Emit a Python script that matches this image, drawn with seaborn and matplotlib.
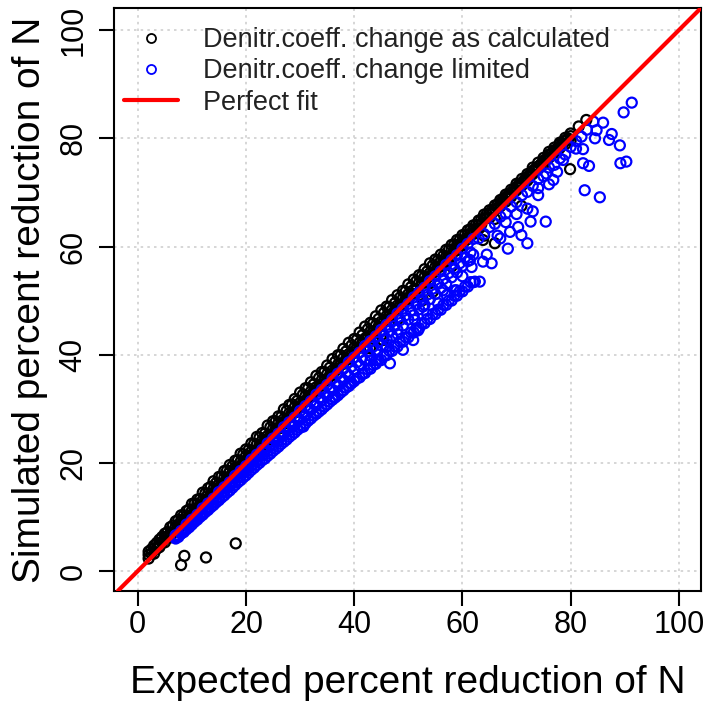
import numpy as np
import pandas as pd
import matplotlib
matplotlib.use("Agg")
import matplotlib.pyplot as plt
from matplotlib.lines import Line2D
import seaborn as sns

# Values (percent reduction of N)
# "as calculated" series: dense band just above the 1:1 line
calc_x = [2, 3, 4, 5, 6, 7, 8, 9, 10,
          11, 12, 13, 14, 15, 16, 17, 18, 19, 20,
          21, 22, 23, 24, 25, 26, 27, 28, 29, 30,
          31, 32, 33, 34, 35, 36, 37, 38, 39, 40,
          41, 42, 43, 44, 45, 46, 47, 48, 49, 50,
          51, 52, 53, 54, 55, 56, 57, 58, 59, 60,
          61, 62, 63, 64, 65, 66, 67, 68, 69, 70,
          71, 72, 73, 74, 75, 76, 77, 78, 79, 80]
calc_y1 = [2.3, 3.2, 4.4, 5.3, 6.2, 7.4, 8.3, 9.2, 10.4,
           11.3, 12.2, 13.4, 14.3, 15.2, 16.4, 17.3, 18.2, 19.4, 20.3,
           21.2, 22.4, 23.3, 24.2, 25.4, 26.3, 27.2, 28.4, 29.3, 30.2,
           31.4, 32.3, 33.2, 34.4, 35.3, 36.2, 37.4, 38.3, 39.2, 40.4,
           41.3, 41.2, 43.4, 44.3, 43.6, 46.4, 47.3, 48.2, 49.4, 50.3,
           51.2, 51.0, 53.3, 53.2, 55.4, 56.3, 57.2, 58.4, 59.3, 60.2,
           61.4, 62.3, 63.2, 62.0, 65.3, 65.1, 67.4, 68.3, 69.2, 70.4,
           71.3, 72.2, 73.4, 74.3, 75.2, 76.4, 77.3, 78.2, 78.9, 79.6]
calc_y2 = [3.0, 4.2, 5.1, 6.3, 7.0, 8.2, 9.3, 10.1, 11.2,
           12.4, 13.1, 14.3, 15.2, 16.0, 17.3, 18.4, 19.1, 20.2, 21.3,
           22.1, 23.4, 24.2, 25.0, 26.3, 27.4, 28.1, 29.2, 30.3, 31.1,
           32.4, 33.2, 34.0, 35.3, 36.4, 37.1, 38.2, 39.4, 40.1, 41.3,
           42.2, 43.0, 44.3, 45.4, 46.1, 47.2, 48.3, 49.1, 50.4, 51.2,
           52.0, 53.3, 54.4, 55.1, 56.2, 57.3, 58.1, 59.4, 60.2, 61.0,
           62.2, 63.1, 64.0, 65.2, 66.1, 66.9, 68.0, 69.1, 69.9, 71.0,
           71.8, 72.9, 74.0, 74.8, 75.9, 77.0, 77.8, 78.9, 79.6, 80.4]
calc_y3 = [3.6, 4.7, 5.8, 6.9, 8.1, 9.2, 10.3, 11.1, 12.4,
           13.2, 14.5, 15.3, 16.6, 17.4, 18.5, 19.6, 20.4, 21.7, 22.5,
           23.6, 24.8, 25.5, 26.9, 27.7, 28.6, 29.9, 30.7, 31.8, 33.0,
           33.8, 34.9, 36.1, 36.8, 38.0, 39.2, 39.9, 41.1, 42.2, 42.9,
           44.1, 45.2, 45.9, 47.1, 48.2, 48.9, 50.1, 51.0, 51.8, 53.0,
           53.9, 54.7, 55.8, 56.9, 57.6, 58.5, 59.4, 60.3, 61.2, 62.1,
           63.0, 63.9, 64.8, 65.9, 66.7, 67.6, 68.6, 69.6, 70.5, 71.6,
           72.5, 73.4, 74.6, 75.5, 76.4, 77.5, 78.3, 79.2, 80.1, 80.9]
calc_xh = [2.5, 3.5, 4.5, 5.5, 6.5, 7.5, 8.5, 9.5,
           10.5, 11.5, 12.5, 13.5, 14.5, 15.5, 16.5, 17.5, 18.5, 19.5,
           20.5, 21.5, 22.5, 23.5, 24.5, 25.5, 26.5, 27.5, 28.5, 29.5,
           30.5, 31.5, 32.5, 33.5, 34.5, 35.5, 36.5, 37.5, 38.5, 39.5,
           40.5, 41.5, 42.5, 43.5, 44.5, 45.5, 46.5, 47.5, 48.5, 49.5,
           50.5, 51.5, 52.5, 53.5, 54.5, 55.5, 56.5, 57.5, 58.5, 59.5,
           60.5, 61.5, 62.5, 63.5, 64.5, 65.5, 66.5, 67.5, 68.5, 69.5,
           70.5, 71.5, 72.5, 73.5, 74.5, 75.5, 76.5, 77.5, 78.5, 79.5]
calc_y4 = [3.2, 4.1, 5.3, 6.2, 7.1, 8.3, 9.2, 10.1,
           11.3, 12.2, 13.1, 14.3, 15.2, 16.1, 17.3, 18.2, 19.1, 20.3,
           21.2, 22.1, 23.3, 24.2, 25.1, 26.3, 27.2, 28.1, 29.3, 30.2,
           31.1, 32.3, 33.2, 34.1, 35.3, 36.2, 37.1, 38.3, 39.2, 40.1,
           41.3, 42.2, 43.1, 44.3, 45.2, 46.1, 47.3, 48.2, 49.1, 50.3,
           51.2, 52.1, 53.3, 54.2, 55.1, 56.3, 57.2, 58.1, 59.3, 60.2,
           61.1, 62.3, 63.2, 64.1, 65.3, 66.2, 67.1, 68.3, 69.2, 70.1,
           71.2, 72.1, 73.0, 74.2, 75.1, 76.0, 77.2, 78.1, 79.0, 80.0]
calc_y5 = [4.0, 5.2, 6.3, 7.2, 8.4, 9.5, 10.3, 11.4,
           12.5, 13.3, 14.4, 15.6, 16.3, 17.5, 18.6, 19.4, 20.5, 21.6,
           22.4, 23.5, 24.7, 25.4, 26.6, 27.7, 28.5, 29.6, 30.8, 31.5,
           32.6, 33.8, 34.5, 35.7, 36.8, 37.6, 38.7, 39.9, 40.6, 41.7,
           42.8, 43.6, 44.7, 45.8, 46.6, 47.7, 48.8, 49.5, 50.6, 51.7,
           52.5, 53.6, 54.6, 55.4, 56.5, 57.5, 58.3, 59.4, 60.4, 61.2,
           62.2, 63.2, 64.0, 65.0, 66.0, 66.8, 67.8, 68.8, 69.6, 70.6,
           71.6, 72.4, 73.4, 74.4, 75.2, 76.2, 77.2, 78.0, 78.9, 79.8]
calc_out_x = [8.0, 8.6, 12.6, 18.1, 42.9, 45.3, 48.0, 52.7, 54.5, 58.0,
              63.8, 66.0, 70.9, 79.9, 81.5, 82.9]
calc_out_y = [1.1, 2.8, 2.5, 5.1, 41.2, 42.7, 46.5, 50.1, 51.6, 56.3,
              61.2, 60.6, 67.5, 74.3, 82.2, 83.4]

# "limited" series: band just below the 1:1 line, spreading out at high values
lim_x = [7, 8, 9, 10,
         11, 12, 13, 14, 15, 16, 17, 18, 19, 20,
         21, 22, 23, 24, 25, 26, 27, 28, 29, 30,
         31, 32, 33, 34, 35, 36, 37, 38, 39, 40,
         41, 42, 43, 44, 45, 46, 47, 48, 49, 50,
         51, 52, 53, 54, 55, 56, 57, 58, 59, 60,
         61, 62]
lim_y1 = [6.6, 7.4, 8.6, 9.5,
          10.4, 11.6, 12.5, 13.4, 14.6, 15.5, 16.4, 17.6, 18.5, 19.4,
          20.6, 21.5, 22.4, 23.6, 24.5, 25.4, 26.6, 27.5, 28.4, 29.6,
          30.5, 31.4, 32.6, 33.5, 34.4, 35.6, 36.5, 37.4, 38.6, 39.5,
          40.4, 41.6, 42.5, 43.4, 44.6, 45.5, 46.4, 47.6, 48.5, 49.4,
          50.6, 51.5, 52.4, 53.6, 54.5, 55.4, 56.6, 57.5, 58.4, 59.6,
          60.5, 61.4]
lim_y2 = [6.2, 7.0, 7.9, 8.8,
          9.9, 10.8, 11.7, 12.8, 13.6, 14.7, 15.6, 16.5, 17.6, 18.4,
          19.5, 20.3, 21.4, 22.2, 23.3, 24.1, 25.1, 26.0, 26.9, 27.9,
          28.7, 29.8, 30.6, 31.6, 32.4, 33.5, 34.3, 35.3, 36.1, 37.2,
          38.0, 39.0, 39.8, 40.9, 41.7, 42.8, 43.5, 44.6, 45.4, 46.5,
          47.3, 48.4, 49.2, 50.3, 51.2, 52.3, 53.1, 54.3, 55.2, 56.4,
          57.3, 58.5]
lim_y3 = [6.0, 6.9, 7.7, 8.6,
          9.5, 10.4, 11.3, 12.2, 13.1, 14.0, 14.9, 15.9, 16.8, 17.7,
          18.7, 19.6, 20.5, 21.3, 22.2, 23.0, 23.9, 24.8, 25.6, 26.5,
          27.3, 28.2, 29.1, 29.9, 30.8, 31.7, 32.5, 33.4, 34.2, 35.1,
          35.8, 36.6, 37.4, 38.3, 39.0, 39.9, 40.7, 41.5, 42.4, 43.2,
          44.1, 44.9, 45.8, 46.6, 47.5, 48.3, 49.2, 50.0, 50.9, 51.7,
          52.6, 53.4]
lim_xh = [7.5, 8.5, 9.5,
          10.5, 11.5, 12.5, 13.5, 14.5, 15.5, 16.5, 17.5, 18.5, 19.5,
          20.5, 21.5, 22.5, 23.5, 24.5, 25.5, 26.5, 27.5, 28.5, 29.5,
          30.5, 31.5, 32.5, 33.5, 34.5, 35.5, 36.5, 37.5, 38.5, 39.5,
          40.5, 41.5, 42.5, 43.5, 44.5, 45.5, 46.5, 47.5, 48.5, 49.5,
          50.5, 51.5, 52.5, 53.5, 54.5, 55.5, 56.5, 57.5, 58.5, 59.5,
          60.5, 61.5]
lim_y4 = [6.6, 7.5, 8.4,
          9.5, 10.4, 11.5, 12.4, 13.4, 14.5, 15.4, 16.3, 17.4, 18.4,
          19.3, 20.4, 21.3, 22.2, 23.3, 24.2, 25.1, 26.2, 27.1, 28.0,
          29.1, 30.0, 30.9, 32.0, 32.9, 33.8, 34.9, 35.8, 36.7, 37.8,
          38.6, 39.5, 40.6, 41.5, 42.4, 43.5, 44.4, 45.3, 46.4, 47.3,
          48.2, 49.3, 50.2, 51.1, 52.2, 53.1, 54.0, 55.1, 56.0, 56.9,
          58.0, 58.9]
lim_y5 = [6.3, 7.2, 8.1,
          9.1, 10.0, 10.9, 11.8, 12.7, 13.6, 14.5, 15.4, 16.4, 17.3,
          18.2, 19.1, 20.0, 20.8, 21.7, 22.6, 23.5, 24.3, 25.2, 26.1,
          26.9, 27.8, 28.7, 29.5, 30.4, 31.3, 32.1, 33.0, 33.9, 34.7,
          35.6, 36.4, 37.3, 38.1, 39.0, 39.8, 40.7, 41.5, 42.4, 43.2,
          44.1, 44.9, 45.8, 46.6, 47.5, 48.3, 49.2, 50.0, 50.9, 51.7,
          52.6, 53.4]
lim_out_x = [91.3, 89.8, 84.2, 86.0, 84.8, 87.6, 87.1, 84.5, 89.1, 82.3,
             81.0, 89.2, 90.3, 82.3, 83.4, 82.6, 85.4, 76.8, 74.0, 78.6,
             75.5, 72.6, 75.4, 70.3, 70.9, 72.0, 68.8, 68.4, 65.4, 63.8,
             61.4, 61.7, 62.3, 63.2, 58.6, 58.9, 57.1, 56.4, 52.7, 51.2,
             51.8, 50.9, 49.0, 46.6, 44.1, 41.6, 39.2, 36.1, 33.0, 30.6,
             63.0, 64.0, 65.0, 66.0, 67.0, 68.0, 69.0, 70.0, 71.0, 72.0,
             73.0, 74.0, 75.0, 76.0, 77.0, 78.0, 79.0, 80.0, 81.0, 82.0,
             83.0, 66.5, 68.0, 70.0, 72.0, 74.0, 76.0, 77.5, 73.0, 67.0,
             64.5, 60.0, 55.5, 53.5, 48.0, 46.0, 43.0]
lim_out_y = [86.6, 84.8, 83.1, 82.9, 81.5, 80.8, 79.7, 80.0, 78.7, 78.0,
             78.1, 75.4, 75.7, 75.4, 74.9, 70.4, 69.1, 72.3, 69.5, 76.0,
             73.5, 64.6, 64.6, 63.6, 62.1, 60.6, 62.7, 59.6, 56.9, 57.2,
             57.5, 56.2, 53.5, 53.5, 51.9, 51.9, 51.0, 51.9, 48.9, 46.4,
             44.5, 42.7, 40.9, 38.4, 39.0, 36.5, 34.7, 32.2, 29.1, 26.7,
             61.5, 62.3, 63.6, 64.2, 65.5, 66.1, 67.4, 68.2, 69.5, 70.1,
             71.2, 72.5, 73.0, 74.6, 75.1, 76.3, 77.0, 78.4, 79.5, 80.3,
             81.6, 62.0, 64.5, 66.0, 67.0, 70.8, 71.5, 73.8, 66.5, 61.5,
             58.5, 54.5, 49.5, 47.5, 43.8, 41.5, 38.9]

labels = ["Denitr.coeff. change as calculated",
          "Denitr.coeff. change limited",
          "Perfect fit"]
ticks = [0, 20, 40, 60, 80, 100]

calc = pd.DataFrame({"expected": calc_x * 3 + calc_xh * 2 + calc_out_x,
                     "simulated": calc_y1 + calc_y2 + calc_y3 + calc_y4 + calc_y5 + calc_out_y})
lim = pd.DataFrame({"expected": lim_x * 3 + lim_xh * 2 + lim_out_x,
                    "simulated": lim_y1 + lim_y2 + lim_y3 + lim_y4 + lim_y5 + lim_out_y})

# Plot
sns.set_style("white")
plt.rcParams['font.family'] = ['Liberation Sans', 'DejaVu Sans']
plt.rcParams['text.color'] = 'black'
plt.rcParams['axes.labelcolor'] = 'black'
plt.rcParams['xtick.color'] = 'black'
plt.rcParams['ytick.color'] = 'black'

fig = plt.figure(figsize=(7.09, 7.05), dpi=100)
ax = fig.add_axes([114 / 709, 1 - 591 / 705, 587 / 709, 583 / 705])

sns.scatterplot(data=calc, x="expected", y="simulated", ax=ax, s=52,
                facecolor="none", edgecolor="black", linewidth=1.6,
                legend=False, zorder=3)
sns.scatterplot(data=lim, x="expected", y="simulated", ax=ax, s=52,
                facecolor="none", edgecolor="blue", linewidth=1.6,
                legend=False, zorder=3)
ax.axline((0, 0), slope=1, color="red", lw=3, zorder=5)

# Decorations
ax.set_xlim(-4.4, 104.1)
ax.set_ylim(-3.7, 104.1)
ax.set_xticks(ticks)
ax.set_yticks(ticks)
ax.grid(True, color="#cfcfcf", linestyle=(0, (1.5, 2.5)), linewidth=1.2, zorder=0)
ax.set_axisbelow(True)
for sp in ax.spines.values():
    sp.set_visible(True)
    sp.set_color("black")
    sp.set_linewidth(1.5)
ax.tick_params(axis="both", direction="out", length=10.5, width=1.5,
               color="black", labelcolor="black", labelsize=22,
               bottom=True, left=True)
ax.tick_params(axis="x", pad=3)
ax.tick_params(axis="y", pad=8, labelrotation=90)
for t in ax.get_yticklabels():
    t.set_va("center")

ax.set_xlabel("Expected percent reduction of N", fontsize=28, color="black")
ax.set_ylabel("Simulated percent reduction of N", fontsize=28, color="black")
ax.xaxis.set_label_coords(0.5, (591 - 683) / 583)
ax.xaxis.label.set_va("center")
ax.yaxis.set_label_coords((30 - 114) / 587, 0.5)
ax.yaxis.label.set_va("center")

handles = [Line2D([], [], marker="o", ls="none", mfc="none", mec="black", ms=6.5, mew=1.3),
           Line2D([], [], marker="o", ls="none", mfc="none", mec="blue", ms=6.5, mew=1.3),
           Line2D([], [], color="red", lw=3)]
leg = ax.legend(handles, labels, loc="upper left", bbox_to_anchor=(124 / 709, 1 - 27 / 705),
                bbox_transform=fig.transFigure, frameon=False, fontsize=19.5,
                handlelength=2.0, handletextpad=0.9, labelspacing=0.2,
                borderpad=0, borderaxespad=0)
for t in leg.get_texts():
    t.set_color("#222222")

fig.savefig("out.png", dpi=100)
